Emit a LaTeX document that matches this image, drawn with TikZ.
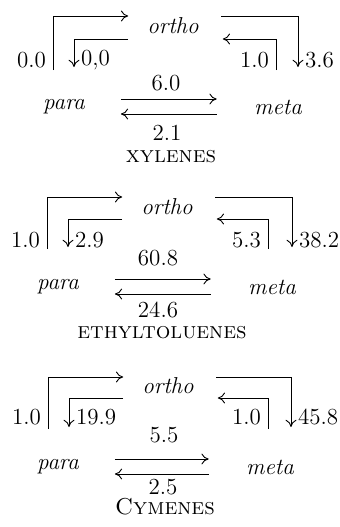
\documentclass[tikz,border=0pt]{standalone}
\usetikzlibrary{arrows.meta}

\begin{document}
\begin{tikzpicture}[x=0.5pt, y=0.5pt, font=\fontsize{11.5}{13}\selectfont,
    flow/.style={line width=0.45pt, -{Computer Modern Rightarrow[length=3.6pt, width=5.4pt]}},
    isomer/.style={font=\fontsize{11.5}{13}\selectfont\itshape}]
    \useasboundingbox (0,0) rectangle (339,527);

    % xylenes
    \begin{scope}[shift={(6,511)}]
        \node[isomer] (ortho1) at (167,-10) {ortho};
        \node[isomer] (para1)  at (58,-91)  {para};
        \node[isomer] (meta1)  at (272,-91) {meta};
        \coordinate (pout1) at (47,-54);
        \coordinate (pin1)  at (68,-51);
        \coordinate (mout1) at (292,-51);
        \coordinate (min1)  at (270,-54);

        \draw[flow, shorten >=6pt] (pout1) |- ([yshift=5pt]ortho1.west);
        \draw[flow, shorten <=6pt] ([yshift=-6.5pt]ortho1.west) -| (pin1);
        \draw[flow, shorten <=7.6pt] ([yshift=5pt]ortho1.east) -| (mout1);
        \draw[flow, shorten >=8.5pt] (min1) |- ([yshift=-6.5pt]ortho1.east);
        \draw[flow, shorten <=14.5pt, shorten >=15.2pt]
            ([yshift=4pt]para1.east) -- ([yshift=4pt]meta1.west);
        \draw[flow, shorten <=15.2pt, shorten >=14.5pt]
            ([yshift=-3.5pt]meta1.west) -- ([yshift=-3.5pt]para1.east);

        \node[left]  (k1a) at (47,-44)  {0.0};
        \node[right] (k1b) at (68,-44)  {0,0};
        \node[left]  (k1c) at (270,-44) {1.0};
        \node[right] (k1d) at (292,-44) {3.6};
        \node (k1e) at (160,-67)  {6.0};
        \node (k1f) at (161,-117) {2.1};
        \node (name1) at (165,-141) {\textsc{xylenes}};
    \end{scope}

    % ethyltoluenes
    \begin{scope}[shift={(0,330)}]
        \node[isomer] (ortho2) at (167,-10) {ortho};
        \node[isomer] (para2)  at (58,-90)  {para};
        \node[isomer] (meta2)  at (272,-90) {meta};
        \coordinate (pout2) at (47,-52);
        \coordinate (pin2)  at (68,-50);
        \coordinate (mout2) at (292,-50);
        \coordinate (min2)  at (268,-52);

        \draw[flow, shorten >=6pt] (pout2) |- ([yshift=5pt]ortho2.west);
        \draw[flow, shorten <=6pt] ([yshift=-6pt]ortho2.west) -| (pin2);
        \draw[flow, shorten <=7.6pt] ([yshift=5pt]ortho2.east) -| (mout2);
        \draw[flow, shorten >=8.5pt] (min2) |- ([yshift=-6pt]ortho2.east);
        \draw[flow, shorten <=14.5pt, shorten >=15.2pt]
            ([yshift=4pt]para2.east) -- ([yshift=4pt]meta2.west);
        \draw[flow, shorten <=15.2pt, shorten >=14.5pt]
            ([yshift=-3.5pt]meta2.west) -- ([yshift=-3.5pt]para2.east);

        \node[left]  (k2a) at (47,-43)  {1.0};
        \node[right] (k2b) at (68,-43)  {2.9};
        \node[left]  (k2c) at (268,-43) {5.3};
        \node[right] (k2d) at (292,-43) {38.2};
        \node (k2e) at (158,-61)  {60.8};
        \node (k2f) at (158,-113) {24.6};
        \node (name2) at (162,-136) {\textsc{ethyltoluenes}};
    \end{scope}

    % cymenes
    \begin{scope}[shift={(0,150)}]
        \node[isomer] (ortho3) at (168,-9)  {ortho};
        \node[isomer] (para3)  at (58,-90)  {para};
        \node[isomer] (meta3)  at (270,-90) {meta};
        \coordinate (pout3) at (48,-52);
        \coordinate (pin3)  at (69,-50);
        \coordinate (mout3) at (291,-50);
        \coordinate (min3)  at (268,-52);

        \draw[flow, shorten >=6pt] (pout3) |- ([yshift=4.5pt]ortho3.west);
        \draw[flow, shorten <=6pt] ([yshift=-6pt]ortho3.west) -| (pin3);
        \draw[flow, shorten <=7.6pt] ([yshift=4.5pt]ortho3.east) -| (mout3);
        \draw[flow, shorten >=8.5pt] (min3) |- ([yshift=-6pt]ortho3.east);
        \draw[flow, shorten <=14.5pt, shorten >=15.2pt]
            ([yshift=4pt]para3.east) -- ([yshift=4pt]meta3.west);
        \draw[flow, shorten <=15.2pt, shorten >=14.5pt]
            ([yshift=-3.5pt]meta3.west) -- ([yshift=-3.5pt]para3.east);

        \node[left]  (k3a) at (48,-40)  {1.0};
        \node[right] (k3b) at (69,-40)  {19.9};
        \node[left]  (k3c) at (268,-40) {1.0};
        \node[right] (k3d) at (291,-40) {45.8};
        \node (k3e) at (164,-58)  {5.5};
        \node (k3f) at (163,-110) {2.5};
        \node (name3) at (165,-130) {\textsc{Cymenes}};
    \end{scope}
\end{tikzpicture}
\end{document}
